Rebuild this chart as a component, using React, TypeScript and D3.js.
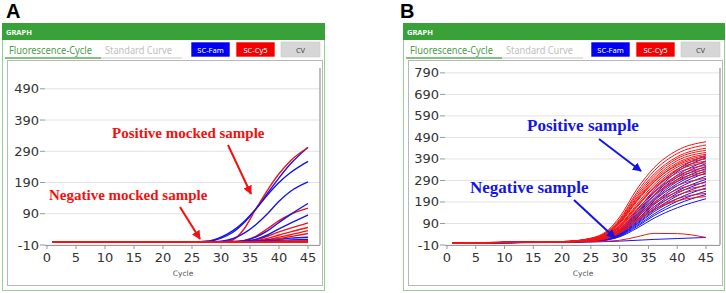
import React from "react";
import * as d3 from "d3";

// ---------- data ----------
const X_TICKS = [0, 5, 10, 15, 20, 25, 30, 35, 40, 45];
const Y_TICKS_A = [-10, 90, 190, 290, 390, 490];
const Y_TICKS_B = [-10, 90, 190, 290, 390, 490, 590, 690, 790];

const CYCLES_A = [1, 25, 28, 30, 32, 34, 36, 38, 40, 42, 45];
const BLUE_A = [
  [0, 0, 2, 12, 30, 62, 105, 155, 205, 250, 303],
  [0, 0, 3, 15, 35, 65, 105, 150, 190, 222, 258],
  [0, 0, 0, 2, 10, 28, 55, 90, 130, 162, 192],
  [0, 0, 0, 0, 1, 4, 15, 35, 62, 88, 123],
  [0, 0, 0, 0, 0, 2, 8, 22, 42, 60, 86],
  [0, 0, 0, 0, 0, 1, 3, 6, 9, 12, 15],
  [0, 0, 0, 0, 0, 0, 1, 3, 5, 6, 8],
];
const RED_A = [
  [0, 0, 0, 0, 6, 42, 105, 165, 218, 260, 302],
  [0, 0, 0, 0, 1, 5, 18, 42, 68, 88, 108],
  [0, 0, 0, 0, 0, 2, 7, 18, 32, 44, 61],
  [0, 0, 0, 0, 0, 1, 4, 11, 22, 32, 46],
  [0, 0, 0, 0, 0, 0, 2, 7, 15, 23, 36],
  [0, 0, 0, 0, 0, 0, 1, 4, 10, 17, 27],
  [0, 0, 0, 0, 0, 0, 0, 1, 2, 3, 4],
  [0, 0, 0, 0, 0, 0, 0, 0, 0, 0, 0],
];

const CYCLES_B = [1, 10, 20, 25, 28, 30, 33, 36, 40, 45];
const RED_B = [
  [-2, 2, 6, 22, 60, 120, 250, 350, 430, 470],
  [-2, 3, 6, 20, 55, 110, 235, 335, 415, 455],
  [-3, 2, 5, 20, 52, 105, 225, 320, 400, 440],
  [-2, 1, 5, 18, 50, 100, 215, 310, 392, 430],
  [-3, 2, 6, 19, 48, 98, 208, 300, 382, 420],
  [-2, 3, 5, 17, 45, 92, 200, 292, 372, 412],
  [-2, 2, 4, 16, 42, 88, 192, 283, 365, 405],
  [-3, 1, 5, 18, 47, 95, 198, 285, 360, 398],
  [-2, 2, 6, 16, 40, 82, 180, 272, 352, 390],
  [-2, 3, 4, 15, 38, 78, 172, 262, 342, 380],
  [-3, 1, 5, 14, 36, 75, 165, 255, 335, 372],
  [-2, 2, 4, 15, 40, 80, 170, 255, 325, 360],
  [-2, 2, 5, 13, 33, 70, 155, 238, 312, 350],
  [-3, 1, 4, 14, 35, 72, 155, 235, 305, 340],
  [-2, 2, 5, 12, 30, 63, 142, 222, 293, 330],
  [-2, 3, 4, 13, 32, 66, 145, 220, 286, 320],
  [-2, 1, 5, 12, 28, 58, 130, 202, 266, 300],
  [-3, 2, 4, 11, 26, 54, 120, 188, 248, 280],
  [-2, 2, 5, 12, 28, 56, 120, 182, 236, 265],
  [-2, 1, 4, 10, 24, 48, 108, 168, 222, 250],
  [-2, 2, 4, 10, 22, 45, 100, 155, 205, 230],
  [-3, 1, 5, 11, 25, 50, 105, 155, 195, 215],
  [-2, 1, 3, 5, 8, 12, 28, 44, 43, 25],
];
const BLUE_B = [
  [-2, 1, 4, 12, 30, 62, 150, 245, 340, 405],
  [-3, 2, 5, 11, 28, 58, 142, 235, 330, 395],
  [-2, 1, 4, 10, 26, 55, 135, 225, 315, 380],
  [-2, 2, 3, 10, 25, 52, 130, 218, 305, 368],
  [-3, 1, 4, 9, 23, 48, 122, 208, 295, 355],
  [-2, 2, 5, 10, 24, 50, 122, 202, 285, 345],
  [-2, 1, 3, 9, 22, 46, 115, 195, 275, 335],
  [-3, 2, 4, 8, 20, 42, 108, 185, 265, 325],
  [-2, 1, 4, 9, 21, 44, 108, 178, 252, 310],
  [-2, 1, 3, 8, 19, 40, 100, 168, 240, 295],
  [-3, 2, 4, 8, 18, 38, 95, 160, 230, 285],
  [-2, 1, 3, 7, 17, 36, 90, 152, 218, 270],
  [-2, 1, 4, 8, 18, 36, 86, 145, 205, 255],
  [-3, 2, 3, 7, 16, 33, 80, 135, 193, 240],
  [-2, 1, 4, 7, 15, 31, 75, 127, 180, 225],
  [-2, 1, 3, 6, 14, 28, 68, 115, 163, 205],
  [-3, 0, 2, 4, 6, 8, 12, 16, 20, 25],
];

const BLUE = "#1414f0";
const RED = "#f21414";
const GREEN = "#38a238";

type Ann = { text: string; tx: number; ty: number; ax1: number; ay1: number; ax2: number; ay2: number };

type PanelCfg = {
  letter: string;
  letterX: number;
  fx: number; // outer frame left
  fw: number;
  btnX: number;
  plotL: number;
  plotR: number;
  x0: number;
  x45: number;
  yTicks: number[];
  yTop: number; // value at plot top
  yPxPer: number;
  cycles: number[];
  series: { color: string; values: number[]; w: number }[];
  ann: Ann[];
  annColor: string;
  annSize: number;
  lineW: number;
};

const PLOT_T = 66;
const PLOT_B = 245;

function Panel({ c }: { c: PanelCfg }) {
  const x = d3.scaleLinear().domain([0, 45]).range([c.x0, c.x45]);
  const y = d3.scaleLinear().domain([-10, c.yTop]).range([PLOT_B, PLOT_T]);
  const line = d3
    .line<[number, number]>()
    .x((d) => x(d[0]))
    .y((d) => y(d[1]))
    .curve(d3.curveMonotoneX);
  const fx = c.fx;
  const id = "clip" + c.letter;
  const mk = "arr" + c.letter;
  const btn = (bx: number, label: string, fill: string, tcol: string) => (
    <g key={label}>
      <rect x={bx} y={42} width={39} height={15} fill={fill} stroke={fill === "#d6d6d6" ? "#c8c8c8" : "#ffffff"} strokeWidth={0.6} />
      <text x={bx + 19.5} y={52.5} textAnchor="middle" fontSize={7.5} fontFamily="Noto Sans" fill={tcol}>
        {label}
      </text>
    </g>
  );
  return (
    <g>
      <defs>
        <clipPath id={id}>
          <rect x={c.plotL} y={PLOT_T} width={c.plotR - c.plotL} height={PLOT_B - PLOT_T + 2} />
        </clipPath>
        <marker id={mk} viewBox="0 0 10 10" refX={9} refY={5} markerWidth={4.5} markerHeight={4.5} orient="auto" markerUnits="strokeWidth">
          <path d="M0,0 L10,5 L0,10 z" fill={c.annColor} />
        </marker>
      </defs>
      <text x={c.letterX} y={18} fontFamily="Liberation Sans" fontWeight="bold" fontSize={20} fill="#000">
        {c.letter}
      </text>
      {/* outer frame */}
      <rect x={fx + 0.5} y={23.5} width={c.fw} height={267} fill="#fff" stroke="#8fd58f" strokeWidth={1} />
      <rect x={fx} y={23} width={c.fw + 1} height={17} fill={GREEN} />
      <text x={fx + 4} y={35} fontSize={7.5} fontWeight="bold" fontFamily="Noto Sans" fill="#fff">
        GRAPH
      </text>
      <text x={fx + 7} y={54} fontSize={10} fontFamily="Noto Sans" fill="#4a9e4a" textLength={83} lengthAdjust="spacingAndGlyphs">
        Fluorescence-Cycle
      </text>
      <text x={fx + 103} y={54} fontSize={10} fontFamily="Noto Sans" fill="#c0c0c0" textLength={67} lengthAdjust="spacingAndGlyphs">
        Standard Curve
      </text>
      <line x1={fx + 3} x2={fx + 99} y1={58} y2={58} stroke="#5aaa5a" strokeWidth={1.5} />
      <line x1={fx + 99} x2={fx + 180} y1={58} y2={58} stroke="#c8c8c8" strokeWidth={1} />
      {btn(c.btnX, "SC-Fam", "#0000f0", "#fff")}
      {btn(c.btnX + 45, "SC-Cy5", "#f50000", "#fff")}
      {btn(c.btnX + 90, "CV", "#d6d6d6", "#444")}
      {/* inner chart frame */}
      <rect x={fx + 5.5} y={60.5} width={c.fw - 7} height={225} fill="#fff" stroke="#b8b8b8" strokeWidth={1} />
      {/* grid */}
      {c.yTicks.map((t) => (
        <g key={t}>
          <line x1={c.plotL} x2={c.plotR} y1={y(t)} y2={y(t)} stroke="#e2e2e2" strokeWidth={1} />
          <line x1={c.plotL - 5} x2={c.plotL} y1={y(t)} y2={y(t)} stroke="#999" strokeWidth={1} />
          <text x={c.plotL - 6} y={y(t) + 4.5} textAnchor="end" fontSize={13} fontFamily="DejaVu Sans" fill="#333">
            {t}
          </text>
        </g>
      ))}
      <line x1={c.plotR} x2={c.plotR} y1={PLOT_T + 2} y2={PLOT_B} stroke="#a8a8a8" strokeWidth={1.5} />
      <line x1={c.plotL} x2={c.plotR} y1={PLOT_B + 0.5} y2={PLOT_B + 0.5} stroke="#999" strokeWidth={1} />
      {X_TICKS.map((t) => (
        <g key={t}>
          <line x1={x(t)} x2={x(t)} y1={PLOT_B} y2={PLOT_B + 4} stroke="#999" strokeWidth={1} />
          <text x={x(t)} y={262} textAnchor="middle" fontSize={13} fontFamily="DejaVu Sans" fill="#333">
            {t}
          </text>
        </g>
      ))}
      <text x={(c.plotL + c.plotR) / 2 + 0.5} y={276} textAnchor="middle" fontSize={7.5} fontFamily="DejaVu Sans" fill="#555">
        Cycle
      </text>
      <g clipPath={`url(#${id})`}>
        {c.series.map((s, i) => (
          <path
            key={i}
            d={line(c.cycles.map((cy, k) => [cy, s.values[k]] as [number, number])) || ""}
            fill="none"
            stroke={s.color}
            strokeWidth={s.w}
          />
        ))}
      </g>
      {c.ann.map((a) => (
        <g key={a.text}>
          <text x={a.tx} y={a.ty} fontFamily="Liberation Serif" fontWeight="bold" fontSize={c.annSize} fill={c.annColor}>
            {a.text}
          </text>
          <line x1={a.ax1} y1={a.ay1} x2={a.ax2} y2={a.ay2} stroke={c.annColor} strokeWidth={2} markerEnd={`url(#${mk})`} />
        </g>
      ))}
    </g>
  );
}

function interleave(blue: number[][], red: number[][], w: number, redFirst: boolean) {
  const out: { color: string; values: number[]; w: number }[] = [];
  const n = Math.max(blue.length, red.length);
  for (let i = 0; i < n; i++) {
    const b = blue[i] ? { color: BLUE, values: blue[i], w } : null;
    const r = red[i] ? { color: RED, values: red[i], w } : null;
    if (redFirst) {
      if (r) out.push(r);
      if (b) out.push(b);
    } else {
      if (b) out.push(b);
      if (r) out.push(r);
    }
  }
  return out;
}

export default function App() {
  const seriesA = interleave(BLUE_A, RED_A.slice(0, RED_A.length - 1), 1.4, false);
  seriesA.push({ color: RED, values: RED_A[RED_A.length - 1], w: 2 });
  const seriesB = interleave(BLUE_B, RED_B, 1, false);

  const A: PanelCfg = {
    letter: "A",
    letterX: 6,
    fx: 2,
    fw: 322,
    btnX: 191,
    plotL: 45,
    plotR: 320,
    x0: 47,
    x45: 308,
    yTicks: Y_TICKS_A,
    yTop: 563,
    yPxPer: 0.312,
    cycles: CYCLES_A,
    series: seriesA,
    annColor: "#f41010",
    annSize: 15,
    lineW: 1.4,
    ann: [
      { text: "Positive mocked sample", tx: 112, ty: 138, ax1: 228, ay1: 145, ax2: 251, ay2: 194 },
      { text: "Negative mocked sample", tx: 49, ty: 200, ax1: 180, ay1: 207, ax2: 200, ay2: 239 },
    ],
  };
  const B: PanelCfg = {
    letter: "B",
    letterX: 400,
    fx: 403,
    fw: 321,
    btnX: 591,
    plotL: 445,
    plotR: 720,
    x0: 447,
    x45: 706,
    yTicks: Y_TICKS_B,
    yTop: 822,
    yPxPer: 0.215,
    cycles: CYCLES_B,
    series: seriesB,
    annColor: "#1414e6",
    annSize: 17,
    lineW: 1,
    ann: [
      { text: "Positive sample", tx: 527, ty: 131, ax1: 599, ay1: 139, ax2: 641, ay2: 171 },
      { text: "Negative sample", tx: 470, ty: 193, ax1: 574, ay1: 200, ax2: 615, ay2: 238 },
    ],
  };

  return (
    <svg width={726} height={293} style={{ position: "absolute", left: 0, top: 0, background: "#fff" }}>
      <rect x={0} y={0} width={726} height={293} fill="#fff" />
      <Panel c={A} />
      <Panel c={B} />
    </svg>
  );
}
